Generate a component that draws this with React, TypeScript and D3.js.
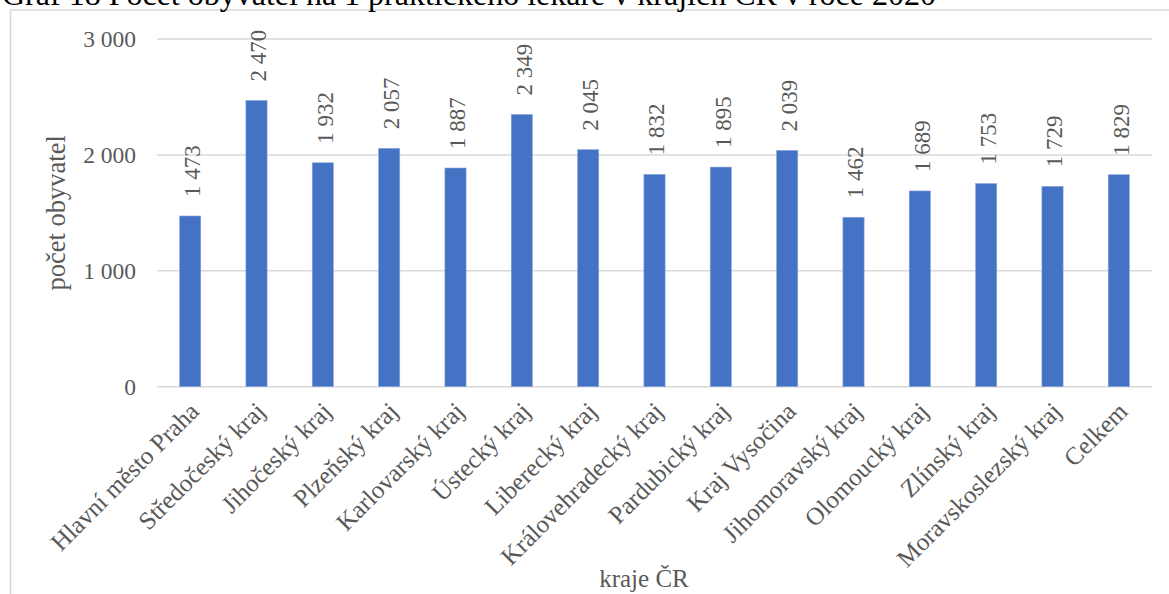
import React from "react";
import * as d3 from "d3";

const regions: string[] = [
  "Hlavní město Praha",
  "Středočeský kraj",
  "Jihočeský kraj",
  "Plzeňský kraj",
  "Karlovarský kraj",
  "Ústecký kraj",
  "Liberecký kraj",
  "Královehradecký kraj",
  "Pardubický kraj",
  "Kraj Vysočina",
  "Jihomoravský kraj",
  "Olomoucký kraj",
  "Zlínský kraj",
  "Moravskoslezský kraj",
  "Celkem",
];

const residentsPerGP: number[] = [
  1473, 2470, 1932, 2057, 1887, 2349, 2045, 1832, 1895, 2039, 1462, 1689, 1753, 1729, 1829,
];

const yTicks: number[] = [0, 1000, 2000, 3000];

const chartTitle = "Graf 18 Počet obyvatel na 1 praktického lékaře v krajích ČR v roce 2020";
const yTitle = "počet obyvatel";
const xTitle = "kraje ČR";

const W = 1169;
const H = 594;
const left = 157;
const right = 1152;
const top = 39;
const bottom = 386.7;

const FONT = "'Liberation Serif', 'Times New Roman', serif";
const GREY = "#595959";

// Czech-style thousands grouping with a space
const fmt = (v: number) => d3.format(",")(v).replace(/,/g, "\u00a0");

export default function App() {
  const x = d3
    .scaleBand<string>()
    .domain(regions)
    .range([left, right])
    .paddingInner(0.68)
    .paddingOuter(0.34);
  const y = d3.scaleLinear().domain([0, 3000]).range([bottom, top]);
  const bw = x.bandwidth();

  return (
    <svg
      width={W}
      height={H}
      style={{ position: "fixed", left: 0, top: 0, background: "#fff" }}
      fontFamily={FONT}
    >
      <rect x={0} y={0} width={W} height={H} fill="#fff" />
      {/* chart frame */}
      <rect x={10.5} y={10} width={W + 20} height={H + 20} fill="none" stroke="#d9d9d9" strokeWidth={1.5} />
      {/* title, running above the frame */}
      <text x={2} y={5} fontSize={32} fontFamily={FONT} fill="#000">
        {chartTitle}
      </text>

      {/* gridlines */}
      {yTicks.map((t) => (
        <line key={t} x1={left} x2={right} y1={y(t)} y2={y(t)} stroke="#d9d9d9" strokeWidth={1.5} />
      ))}
      {/* y tick labels */}
      {yTicks.map((t) => (
        <text
          key={"l" + t}
          x={136}
          y={y(t)}
          dy="0.35em"
          textAnchor="end"
          fontSize={23.5}
          fontFamily={FONT}
          fill={GREY}
        >
          {fmt(t)}
        </text>
      ))}

      {/* bars */}
      {regions.map((r, i) => (
        <rect
          key={r}
          x={x(r)!}
          y={y(residentsPerGP[i])}
          width={bw}
          height={bottom - y(residentsPerGP[i])}
          fill="#4472C4"
          stroke="#8faadc"
          strokeWidth={0.6}
        />
      ))}

      {/* value labels */}
      {regions.map((r, i) => {
        const cx = x(r)! + bw / 2;
        const ty = y(residentsPerGP[i]) - 19;
        return (
          <text
            key={"v" + r}
            transform={`translate(${cx},${ty}) rotate(-90)`}
            dy="0.42em"
            fontSize={23}
            fontFamily={FONT}
            fill={GREY}
          >
            {fmt(residentsPerGP[i])}
          </text>
        );
      })}

      {/* category labels */}
      {regions.map((r) => {
        const cx = x(r)! + bw / 2;
        return (
          <text
            key={"c" + r}
            transform={`translate(${cx + 4},${bottom + 20}) rotate(-45)`}
            textAnchor="end"
            dy="0.35em"
            fontSize={25}
            fontFamily={FONT}
            fill={GREY}
          >
            {r}
          </text>
        );
      })}

      {/* axis titles */}
      <text
        transform={`translate(56,${(top + bottom) / 2}) rotate(-90)`}
        textAnchor="middle"
        dy="0.35em"
        fontSize={26.5}
        fontFamily={FONT}
        fill={GREY}
      >
        {yTitle}
      </text>
      <text x={644} y={587} textAnchor="middle" fontSize={25} fontFamily={FONT} fill={GREY}>
        {xTitle}
      </text>
    </svg>
  );
}
